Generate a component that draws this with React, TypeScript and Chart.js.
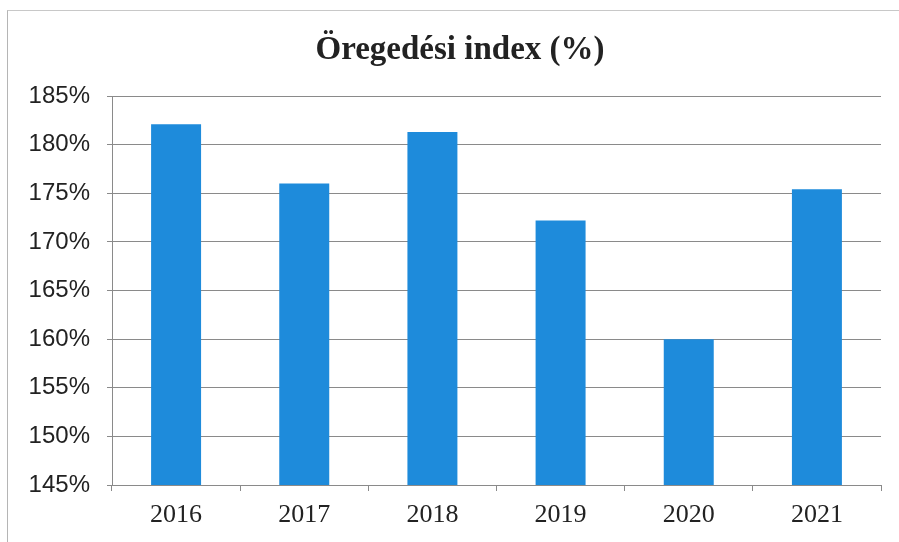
import React, { useEffect, useRef } from "react";
import { Chart, registerables } from "chart.js";

Chart.register(...registerables);

const categories = ["2016", "2017", "2018", "2019", "2020", "2021"];
const values = [182.1, 176.0, 181.3, 172.2, 160.0, 175.4];
const yMin = 145;
const yMax = 185;
const yStep = 5;
const title = "Öregedési index (%)";

export default function App() {
  const ref = useRef<HTMLCanvasElement | null>(null);

  useEffect(() => {
    document.body.style.margin = "0";
    const ctx = ref.current!;
    const chart = new Chart(ctx, {
      type: "bar",
      data: {
        labels: categories,
        datasets: [
          {
            data: values,
            backgroundColor: "#1e8bdb",
            borderWidth: 0,
            barPercentage: 0.39,
            categoryPercentage: 1,
          },
        ],
      },
      options: {
        animation: false,
        responsive: false,
        maintainAspectRatio: false,
        layout: { padding: { left: 0, right: 18, top: 96, bottom: 0 } },
        plugins: {
          legend: { display: false },
          tooltip: { enabled: false },
          title: { display: false },
        },
        scales: {
          x: {
            afterFit: (s: any) => {
              s.height = 57;
            },
            grid: {
              display: true,
              drawOnChartArea: false,
              drawTicks: true,
              tickLength: 6,
              color: "#8a8a8a",
              offset: true,
            },
            border: { display: true, color: "#8a8a8a", width: 1 },
            ticks: {
              color: "#222",
              padding: 9,
              font: { family: "'Liberation Serif', serif", size: 26 },
            },
          },
          y: {
            min: yMin,
            max: yMax,
            afterFit: (s: any) => {
              s.width = 112;
            },
            grid: {
              color: "#8a8a8a",
              tickLength: 5,
              lineWidth: 1,
            },
            border: { display: true, color: "#8a8a8a", width: 1 },
            ticks: {
              stepSize: yStep,
              color: "#222",
              padding: 17,
              font: { family: "'Liberation Sans', sans-serif", size: 24 },
              callback: (v: any) => `${v}%`,
            },
          },
        },
      },
    });
    return () => chart.destroy();
  }, []);

  return (
    <div style={{ position: "relative", width: 899, height: 542, background: "#fff", overflow: "hidden" }}>
      <div
        style={{
          position: "absolute",
          left: 7,
          top: 10,
          width: 900,
          height: 540,
          borderLeft: "1px solid #b5b5b5",
          borderTop: "1px solid #c8c8c8",
          pointerEvents: "none",
        }}
      />
      <canvas ref={ref} width={899} height={542} style={{ position: "absolute", left: 0, top: 0 }} />
      <div
        style={{
          position: "absolute",
          left: 260,
          width: 400,
          top: 28,
          height: 40,
          lineHeight: "40px",
          textAlign: "center",
          fontFamily: "'Liberation Serif', serif",
          fontWeight: "bold",
          fontSize: 33,
          color: "#222",
          whiteSpace: "nowrap",
        }}
      >
        {title}
      </div>
    </div>
  );
}
